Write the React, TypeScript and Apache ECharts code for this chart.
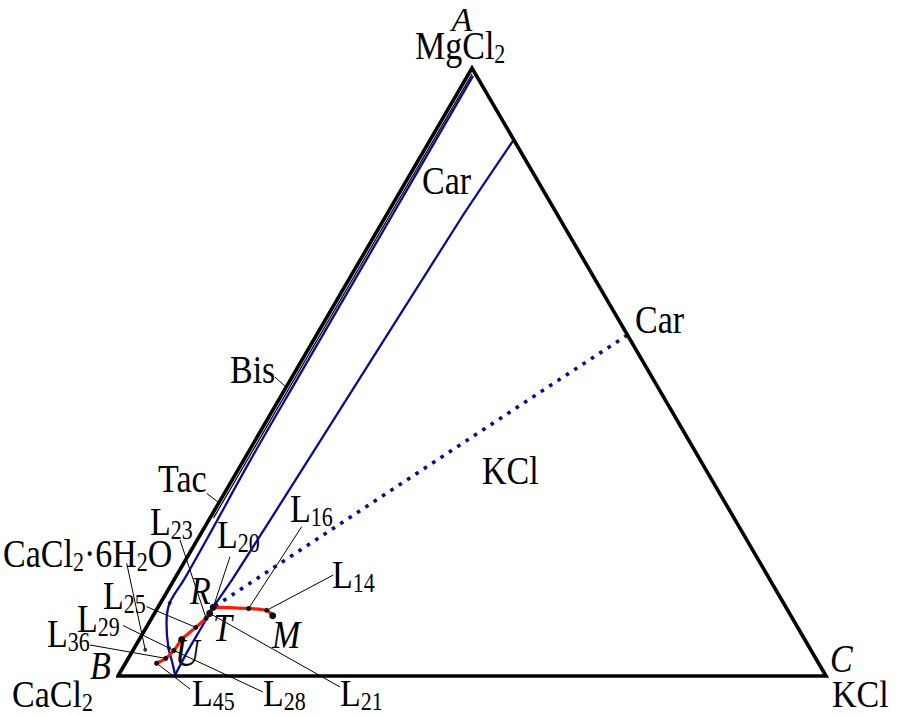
import React, { useEffect, useRef } from "react";
import * as echarts from "echarts";

// Compositions are mass % on a dry basis: [MgCl2, CaCl2, KCl]
type Comp = [number, number, number];

const VERTEX_A: Comp = [100, 0, 0]; // MgCl2
const VERTEX_B: Comp = [0, 100, 0]; // CaCl2
const VERTEX_C: Comp = [0, 0, 100]; // KCl

// Liquid compositions along the red univariant path
const redNames = ["M", "L14", "L16", "R", "T", "L23", "L25", "U", "L28", "L36", "L45"];
const redCurve: Comp[] = [
  [9.9, 73.2, 16.9],
  [10.8, 73.6, 15.6],
  [11.1, 76.0, 12.9],
  [11.3, 80.9, 7.8],
  [10.3, 81.9, 7.8],
  [9.5, 82.8, 7.7],
  [8.0, 85.0, 7.0],
  [6.0, 88.0, 6.0],
  [4.2, 90.0, 5.8],
  [2.9, 91.8, 5.3],
  [2.1, 93.5, 4.4],
];
const bigPointNames = ["M", "R", "T", "U"];

// Blue boundary curves
const leftBlueCurve: Comp[] = [
  [98.7, 0.5, 0.8],
  [75.0, 24.15, 0.85],
  [48.7, 50.4, 0.9],
  [35.5, 63.55, 0.95],
  [22.4, 76.3, 1.3],
  [15.8, 82.8, 1.4],
  [12.0, 86.7, 1.3],
  [8.7, 88.8, 2.5],
  [4.8, 90.5, 4.7],
  [2.3, 91.2, 6.5],
  [0, 91.9, 8.1],
];
const rightBlueCurve: Comp[] = [
  [88.2, 0, 11.8],
  [75.0, 14.2, 10.8],
  [35.5, 55.4, 9.1],
  [15.8, 76.0, 8.2],
  [11.3, 80.9, 7.8],
  [7.6, 84.6, 7.8],
  [3.8, 88.4, 7.8],
  [0, 92.0, 8.0],
];
const carnalliteTieLine: Comp[] = [
  [56.1, 0, 43.9],
  [11.3, 80.9, 7.8],
];
const innerBoundary: Comp[] = [
  [99.0, 0.5, 0.5],
  [26.0, 73.5, 0.5],
];
const blueCurveDots: Comp[] = [
  [12.0, 86.7, 1.3],
  [4.6, 90.5, 4.9],
];
const hexahydratePoint: Comp = [4.3, 94.0, 1.7];
const bisPoint: Comp = [47.5, 52.5, 0];
const tacPoint: Comp = [28.5, 71.5, 0];

// ---- layout (pixels) ----
const FONT = "'Liberation Serif', 'Times New Roman', serif";
const BLUE = "#0c0c90";
const RED = "#ff1a00";
const TEXT_STRETCH = 1.2;
const MAIN_SIZE = 34;
const SUB_SIZE = 22;
const SUB_DROP = 7.5;

const redPoint = (name: string): Comp => redCurve[redNames.indexOf(name)];

const LEADERS: { from: [number, number]; to: Comp }[] = [
  { from: [275, 377], to: bisPoint },
  { from: [206.7, 493.3], to: tacPoint },
  { from: [126.7, 563.3], to: hexahydratePoint },
  { from: [180, 540], to: redPoint("L23") },
  { from: [230, 556.7], to: redPoint("R") },
  { from: [301.7, 526.7], to: redPoint("L16") },
  { from: [333.3, 575], to: redPoint("L14") },
  { from: [146.7, 606.7], to: redPoint("L25") },
  { from: [123, 625.5], to: redPoint("L28") },
  { from: [263, 692], to: redPoint("L28") },
  { from: [90, 645], to: redPoint("L36") },
  { from: [190, 689], to: redPoint("L45") },
  { from: [340, 687], to: redPoint("T") },
];

type Label = { parts: string[]; x: number; y: number; center?: boolean; stretch?: number; size?: number };

// text pieces: "_" prefix = subscript, "*" prefix = italic
const LABELS: Label[] = [
  { parts: ["*A"], x: 462, y: 19, center: true, stretch: 1.0 },
  { parts: ["MgCl", "_2"], x: 415, y: 45 },
  { parts: ["*B"], x: 90, y: 665 },
  { parts: ["CaCl", "_2"], x: 12, y: 694, stretch: 1.1 },
  { parts: ["*C"], x: 830, y: 658 },
  { parts: ["KCl"], x: 832, y: 694, stretch: 1.1 },
  { parts: ["Car"], x: 422, y: 180 },
  { parts: ["Car"], x: 635, y: 319 },
  { parts: ["Bis"], x: 230, y: 369 },
  { parts: ["Tac"], x: 158, y: 478 },
  { parts: ["KCl"], x: 482, y: 470 },
  { parts: ["CaCl", "_2", "·6H", "_2", "O"], x: 3, y: 553 },
  { parts: ["*R"], x: 190, y: 590 },
  { parts: ["*T"], x: 213, y: 627 },
  { parts: ["*M"], x: 272, y: 634 },
  { parts: ["*U"], x: 175, y: 652 },
  { parts: ["L", "_23"], x: 150, y: 521 },
  { parts: ["L", "_20"], x: 217, y: 534 },
  { parts: ["L", "_16"], x: 290, y: 508 },
  { parts: ["L", "_14"], x: 332, y: 574 },
  { parts: ["L", "_25"], x: 103, y: 595 },
  { parts: ["L", "_29"], x: 77, y: 618 },
  { parts: ["L", "_36"], x: 47, y: 633 },
  { parts: ["L", "_45"], x: 192, y: 693, stretch: 1.1 },
  { parts: ["L", "_28"], x: 263, y: 693, stretch: 1.1 },
  { parts: ["L", "_21"], x: 340, y: 693, stretch: 1.1 },
];

function toXY(p: Comp): [number, number] {
  const s = p[0] + p[1] + p[2];
  const a = (p[0] / s) * 100;
  const c = (p[2] / s) * 100;
  return [c + a / 2, (a * Math.sqrt(3)) / 2];
}

let measureCtx: CanvasRenderingContext2D | null = null;
function textWidth(text: string, font: string): number {
  if (!measureCtx) measureCtx = document.createElement("canvas").getContext("2d");
  if (!measureCtx) return text.length * 15;
  measureCtx.font = font;
  return measureCtx.measureText(text).width;
}

function buildLabel(lb: Label) {
  const pieces: any[] = [];
  let dx = 0;
  lb.parts.forEach((raw) => {
    const sub = raw.startsWith("_");
    const italic = raw.startsWith("*");
    const t = sub || italic ? raw.slice(1) : raw;
    const size = sub ? SUB_SIZE : lb.size ?? MAIN_SIZE;
    const style = italic ? "italic" : "normal";
    const font = `${style} ${size}px ${FONT}`;
    pieces.push({
      type: "text",
      silent: true,
      x: dx,
      y: sub ? SUB_DROP : 0,
      style: {
        text: t,
        font,
        fill: "#000",
        align: "left",
        textAlign: "left",
        verticalAlign: "middle",
        textVerticalAlign: "middle",
      },
    });
    dx += textWidth(t, font);
  });
  const shift = lb.center ? -dx / 2 : 0;
  pieces.forEach((p) => (p.x += shift));
  return {
    type: "group",
    silent: true,
    z: 10,
    x: lb.x,
    y: lb.y,
    scaleY: lb.stretch ?? TEXT_STRETCH,
    children: pieces,
  };
}

export default function App() {
  const ref = useRef<HTMLDivElement>(null);

  useEffect(() => {
    if (!ref.current) return;
    const chart = echarts.init(ref.current, null, { renderer: "svg" });

    const lineBase = {
      type: "line",
      symbol: "none",
      clip: false,
      silent: true,
    };

    chart.setOption({
      animation: false,
      grid: { left: 118, top: 68, width: 708, height: 608 },
      xAxis: { type: "value", min: 0, max: 100, show: false },
      yAxis: { type: "value", min: 0, max: 50 * Math.sqrt(3), show: false },
      series: [
        {
          ...lineBase,
          name: "inner",
          data: innerBoundary.map(toXY),
          lineStyle: { color: "#000", width: 1.2 },
          z: 3,
        },
        {
          ...lineBase,
          name: "leftBlue",
          smooth: 0.35,
          data: leftBlueCurve.map(toXY),
          lineStyle: { color: BLUE, width: 2.3 },
          z: 3,
        },
        {
          ...lineBase,
          name: "rightBlue",
          smooth: 0.2,
          data: rightBlueCurve.map(toXY),
          lineStyle: { color: BLUE, width: 2.3 },
          z: 3,
        },
        {
          ...lineBase,
          name: "carTie",
          data: carnalliteTieLine.map(toXY),
          lineStyle: { color: BLUE, width: 3.6, type: [3.6, 6.4], cap: "butt" },
          z: 3,
        },
        {
          ...lineBase,
          name: "triangle",
          data: [VERTEX_B, VERTEX_C, VERTEX_A, VERTEX_B, VERTEX_C].map(toXY),
          lineStyle: { color: "#000", width: 3.6, join: "miter", miterLimit: 10 },
          z: 4,
        },
        {
          type: "line",
          name: "red",
          clip: false,
          silent: true,
          smooth: 0.25,
          symbol: "circle",
          showSymbol: true,
          showAllSymbol: true,
          data: redCurve.map((p, i) => ({
            value: toXY(p),
            symbolSize: bigPointNames.includes(redNames[i]) ? 7 : 5,
          })),
          lineStyle: { color: RED, width: 3.2 },
          itemStyle: { color: "#111", borderWidth: 0 },
          z: 6,
        },
        {
          type: "scatter",
          name: "dots",
          clip: false,
          silent: true,
          symbol: "circle",
          symbolSize: 4,
          data: [...blueCurveDots, hexahydratePoint].map(toXY),
          itemStyle: { color: "#111" },
          z: 6,
        },
      ],
    });

    const toPx = (p: Comp) => chart.convertToPixel({ gridIndex: 0 }, toXY(p)) as number[];

    const graphics: any[] = [];
    LEADERS.forEach((ld) => {
      const [x2, y2] = toPx(ld.to);
      graphics.push({
        type: "line",
        silent: true,
        z: 5,
        shape: { x1: ld.from[0], y1: ld.from[1], x2, y2 },
        style: { stroke: "#000", lineWidth: 1 },
      });
    });
    LABELS.forEach((lb) => graphics.push(buildLabel(lb)));

    chart.setOption({ graphic: graphics });

    return () => chart.dispose();
  }, []);

  return (
    <div
      ref={ref}
      style={{ position: "fixed", left: 0, top: 0, width: 900, height: 715, background: "#fff" }}
    />
  );
}
